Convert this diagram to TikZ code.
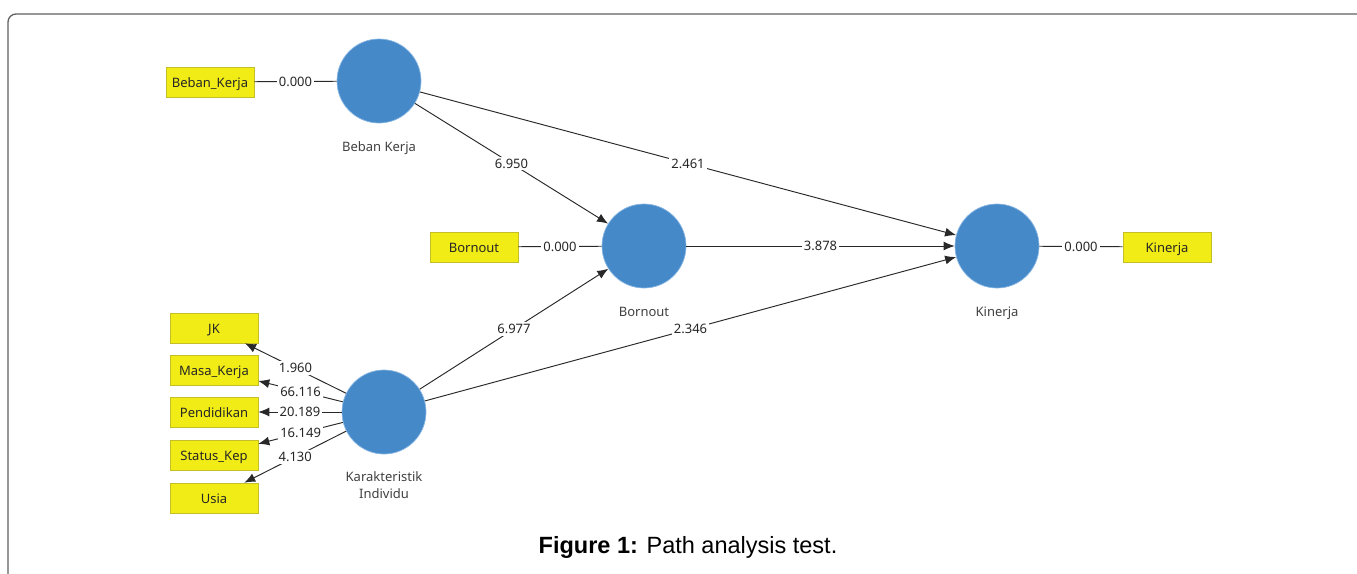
\documentclass[tikz,border=0pt]{standalone}
\usepackage{fontspec}
\setmainfont{Noto Sans}
\newfontfamily\captionfont{Liberation Sans}
\usepackage{tikz}
\usetikzlibrary{
	arrows.meta,
	positioning
}
\definecolor{LvBlue}{RGB}{70,137,200}
\definecolor{LvEdge}{RGB}{135,182,226}
\definecolor{IndYellow}{RGB}{242,236,22}
\definecolor{IndEdge}{RGB}{196,190,40}
\definecolor{LinkGray}{RGB}{40,40,40}

\begin{document}
\begin{tikzpicture}[x=1pt, y=-1pt,
		latent/.style={circle, fill=LvBlue, draw=LvEdge, line width=0.7pt, minimum size=84pt, inner sep=0pt},
		indicator/.style={rectangle, fill=IndYellow, draw=IndEdge, line width=0.6pt, minimum width=88pt, minimum height=30pt, inner sep=0pt, text height=12pt, text depth=1.4pt, font=\fontsize{13}{15}\selectfont, text=black!85},
		lvname/.style={font=\fontsize{13}{17}\selectfont, text=black!75, align=center},
		link/.style={draw=LinkGray, line width=0.95pt},
		tip/.style={-{Latex[length=11pt, width=9pt]}},
		coef/.style={fill=white, inner sep=2pt, font=\fontsize{13}{15}\selectfont, text=black!85}
	]
			\useasboundingbox (0,0) rectangle (1357,573);
			\clip (0,0) rectangle (1357,573);
			\draw[gray!75!black, line width=1.3pt, rounded corners=8pt] (8,14) rectangle (1385,610);

			\node[latent] (BK) at (379,81) {};
			\node[latent] (BO) at (644,246) {};
			\node[latent] (KN) at (997,246) {};
			\node[latent] (KI) at (384,412) {};
			\node[lvname, below=15pt of BK] (BKname) {Beban Kerja};
			\node[lvname, below=15pt of BO] (BOname) {Bornout};
			\node[lvname, below=15pt of KN] (KNname) {Kinerja};
			\node[lvname, below=14pt of KI] (KIname) {Karakteristik\\Individu};

			\node[indicator] (iBK) at (210,82) {Beban\_Kerja};
			\node[indicator] (iBO) at (474,247) {Bornout};
			\node[indicator] (iKN) at (1167,247) {Kinerja};
			\node[indicator] (iJK) at (214,328) {JK};
			\node[indicator] (iMK) at (214,370) {Masa\_Kerja};
			\node[indicator] (iPD) at (214,412) {Pendidikan};
			\node[indicator] (iSK) at (214,455) {Status\_Kep};
			\node[indicator] (iUS) at (214,498) {Usia};

			\draw[link] (iBK) -- node[coef] {0.000} (BK);
			\draw[link] (iBO) -- node[coef] {0.000} (BO);
			\draw[link] (KN) -- node[coef] {0.000} (iKN);

			\draw[link, tip] (BK) -- node[coef] {6.950} (BO);
			\draw[link, tip] (BK) -- node[coef] {2.461} (KN);
			\draw[link, tip] (BO) -- node[coef] {3.878} (KN);
			\draw[link, tip] (KI) -- node[coef] {6.977} (BO);
			\draw[link, tip] (KI) -- node[coef] {2.346} (KN);

			\draw[link, tip] (KI) -- node[coef] {1.960} (iJK);
			\draw[link, tip] (KI) -- node[coef] {66.116} (iMK);
			\draw[link, tip] (KI) -- node[coef] {20.189} (iPD);
			\draw[link, tip] (KI) -- node[coef] {16.149} (iSK);
			\draw[link, tip] (KI) -- node[coef] {4.130} (iUS);

			\node[anchor=base, font=\captionfont\fontsize{23.5}{27}\selectfont] (caption) at (688,553) {\textbf{Figure 1:} Path analysis test.};
		\end{tikzpicture}
\end{document}
